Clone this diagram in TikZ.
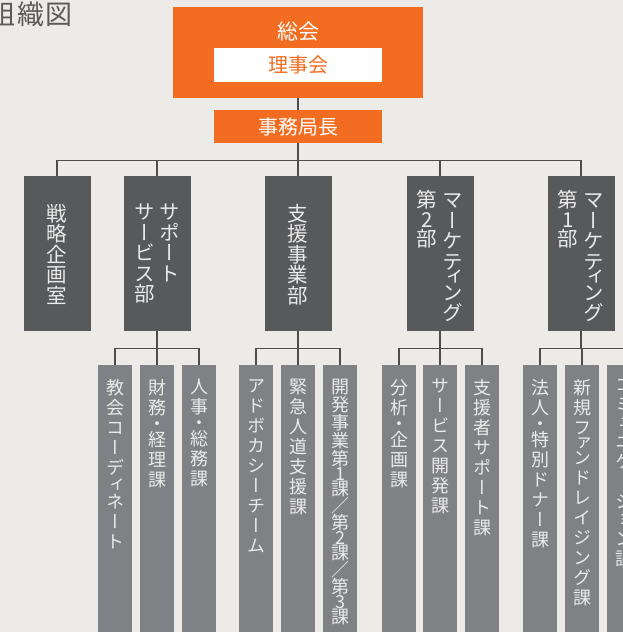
\documentclass[tikz,border=0pt]{standalone}
\usepackage{fontspec}
\newfontfamily\cjk{Noto Sans CJK JP}
\newfontfamily\cjkv{Noto Sans CJK JP}[RawFeature=+vert]
\definecolor{bg}{HTML}{ECEBE7}
\definecolor{orng}{HTML}{F26D21}
\definecolor{dark}{HTML}{58595B}
\definecolor{mid}{HTML}{808185}
\definecolor{linec}{HTML}{4D4D4D}
\definecolor{ltxt}{HTML}{EAEAEA}
\definecolor{ttl}{HTML}{5A5A5A}
\newcommand{\vstack}[1]{\parbox[t]{1em}{\centering\lineskiplimit=-100pt\lineskip=0pt #1}}
\tikzset{
  orangebox/.style={fill=orng, draw=none, inner sep=0},
  whitebox/.style={fill=white, draw=none, inner sep=0},
  lonebox/.style={fill=dark, minimum width=67pt, minimum height=155pt, inner sep=0, anchor=north},
  ltwobox/.style={fill=mid, minimum width=34pt, minimum height=290pt, inner sep=0, anchor=north},
  lonetext/.style={text=ltxt, inner sep=0, anchor=north, font=\cjkv\fontsize{20.5}{20.5}\selectfont},
  ltwotext/.style={text=ltxt, inner sep=0, anchor=north, font=\cjkv\fontsize{18}{20}\selectfont},
  conn/.style={draw=linec, line width=1.1pt},
}
\begin{document}
\begin{tikzpicture}[x=1pt,y=-1pt]
\useasboundingbox (0,0) rectangle (623,632);
\clip (0,0) rectangle (623,632);
\fill[bg] (0,0) rectangle (623,632);

% title
\node[anchor=east, inner sep=0, text=ttl, font=\cjk\fontsize{27}{27}\selectfont] (title) at (72.5,14.5) {組\hspace{2pt}織\hspace{1pt}図};

% top boxes
\node[orangebox, minimum width=250pt, minimum height=91pt] (soukai) at (298,52.5) {};
\node[inner sep=0, text=white, font=\cjk\fontsize{21}{21}\selectfont] (soukaitxt) at (298,32) {総会};
\node[whitebox, minimum width=168pt, minimum height=34pt, text=orng, font=\cjk\fontsize{20}{20}\selectfont] (riji) at (298,65) {理事会};
\node[orangebox, minimum width=168pt, minimum height=33pt, text=white, font=\cjk\fontsize{20}{20}\selectfont] (jimu) at (298,126.5) {事務局長};

% level 1
\node[lonebox] (d1) at (57,176) {};
\node[lonebox] (d2) at (157,176) {};
\node[lonebox] (d3) at (298,176) {};
\node[lonebox] (d4) at (440,176) {};
\node[lonebox] (d5) at (581,176) {};

\node[lonetext] (t1) at (57,204) {\vstack{戦\\略\\企\\画\\室}};
\node[lonetext] (t2) at (157.5,204) {\vstack{サ\\ー\\ビ\\ス\\部}\hspace{4.5pt}\vstack{サ\\ポ\\ー\\ト}};
\node[lonetext] (t3) at (298,204) {\vstack{支\\援\\事\\業\\部}};
\node[lonetext] (t4) at (440,190) {\vstack{第\\[-1pt]2\\[-1pt]部}\hspace{5.5pt}\vstack{マ\\ー\\ケ\\テ\\[-5pt]ィ\\[-5pt]ン\\グ}};
\node[lonetext] (t5) at (581,190) {\vstack{第\\[-1pt]1\\[-1pt]部}\hspace{5.5pt}\vstack{マ\\ー\\ケ\\テ\\[-5pt]ィ\\[-5pt]ン\\グ}};

% level 2
\node[ltwobox] (c11) at (115,365) {};
\node[ltwobox] (c12) at (157,365) {};
\node[ltwobox] (c13) at (199,365) {};
\node[ltwobox] (c21) at (256,365) {};
\node[ltwobox] (c22) at (298,365) {};
\node[ltwobox] (c23) at (340,365) {};
\node[ltwobox] (c41) at (399,365) {};
\node[ltwobox] (c42) at (440,365) {};
\node[ltwobox] (c43) at (482,365) {};
\node[ltwobox] (c51) at (540,365) {};
\node[ltwobox] (c52) at (582,365) {};
\node[ltwobox] (c53) at (624,365) {};

\node[ltwotext] (s11) at (115,379) {\vstack{教\\会\\コ\\ー\\デ\\[-3pt]ィ\\[-3pt]ネ\\ー\\ト}};
\node[ltwotext] (s12) at (157,379) {\vstack{財\\務\\[-4pt]・\\[-4pt]経\\理\\課}};
\node[ltwotext] (s13) at (199,379) {\vstack{人\\事\\[-4pt]・\\[-4pt]総\\務\\課}};
\node[ltwotext] (s21) at (256,379) {\vstack{ア\\ド\\ボ\\カ\\シ\\ー\\チ\\ー\\ム}};
\node[ltwotext] (s22) at (298,379) {\vstack{緊\\急\\人\\道\\支\\援\\課}};
\node[ltwotext, font=\cjkv\fontsize{18}{18}\selectfont] (s23) at (340,379) {\vstack{開\\発\\事\\業\\第\\[-3pt]1\\[-3pt]課\\[-1pt]／\\[-1pt]第\\[-3pt]2\\[-3pt]課\\[-1pt]／\\[-1pt]第\\[-3pt]3\\[-3pt]課}};
\node[ltwotext] (s41) at (399,379) {\vstack{分\\析\\[-4pt]・\\[-4pt]企\\画\\課}};
\node[ltwotext] (s42) at (440,379) {\vstack{サ\\ー\\ビ\\ス\\開\\発\\課}};
\node[ltwotext] (s43) at (482,379) {\vstack{支\\援\\者\\サ\\ポ\\ー\\ト\\課}};
\node[ltwotext] (s51) at (540,379) {\vstack{法\\人\\[-4pt]・\\[-4pt]特\\別\\ド\\ナ\\ー\\課}};
\node[ltwotext] (s52) at (582,379) {\vstack{新\\規\\フ\\[-5pt]ァ\\[-5pt]ン\\ド\\レ\\イ\\ジ\\ン\\グ\\課}};
\node[ltwotext] (s53) at (624,379) {\vstack{コ\\ミ\\[-1.5pt]ュ\\[-1.5pt]ニ\\ケ\\ー\\シ\\[-1.5pt]ョ\\[-1.5pt]ン\\課}};

% connectors
\draw[conn] (soukai.south) -- (jimu.north);
\foreach \d in {d1,d2,d3,d4,d5}{
  \draw[conn] (jimu.south) -- ++(0,17) -| (\d.north);
}
\foreach \p/\a/\b/\c in {d2/c11/c12/c13, d3/c21/c22/c23, d4/c41/c42/c43, d5/c51/c52/c53}{
  \draw[conn] (\p.south) -- ++(0,17) -| (\a.north);
  \draw[conn] (\p.south) -- ++(0,17) -| (\b.north);
  \draw[conn] (\p.south) -- ++(0,17) -| (\c.north);
}
\end{tikzpicture}
\end{document}
